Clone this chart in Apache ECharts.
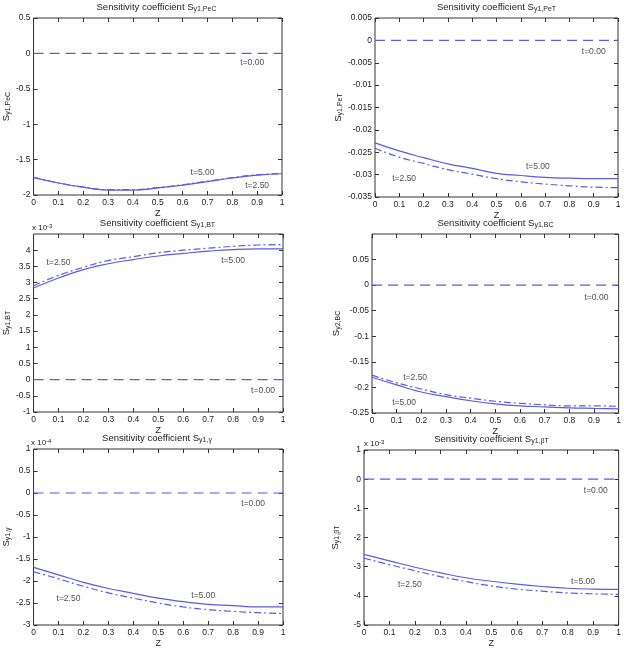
<!DOCTYPE html>
<html>
<head>
<meta charset="utf-8">
<script src="https://cdn.jsdelivr.net/npm/echarts@6/dist/echarts.min.js"></script>
<style>
html, body { margin: 0; padding: 0; background: #fff; }
#main { width: 624px; height: 649px; }
</style>
</head>
<body>
<div id="main"></div>
<script>
// z 坐标
var zValue = [0, 0.1, 0.2, 0.3, 0.4, 0.5, 0.6, 0.7, 0.8, 0.9, 1];
var zeroLine = [0, 0, 0, 0, 0, 0, 0, 0, 0, 0, 0];

// S y1,PeC
var PeC_t5 = [-1.75, -1.83, -1.89, -1.93, -1.93, -1.90, -1.86, -1.81, -1.76, -1.72, -1.70];
var PeC_t25 = [-1.75, -1.83, -1.89, -1.925, -1.925, -1.895, -1.855, -1.805, -1.755, -1.715, -1.695];
var PeC_text = [[0.88, -0.13], [0.68, -1.68], [0.90, -1.87]];

// S y1,PeT
var PeT_t5 = [-0.0229, -0.0247, -0.0262, -0.0276, -0.0286, -0.0297, -0.0302, -0.0306, -0.0308, -0.0309, -0.0309];
var PeT_t25 = [-0.0241, -0.0261, -0.0275, -0.0289, -0.0299, -0.0309, -0.0316, -0.0321, -0.0325, -0.0328, -0.0329];
var PeT_text = [[0.9, -0.0026], [0.67, -0.0283], [0.12, -0.031]];

// S y1,BT (x 10^-3)
var BT_t5 = [2.83, 3.14, 3.40, 3.58, 3.71, 3.82, 3.90, 3.97, 4.02, 4.04, 4.04];
var BT_t25 = [2.90, 3.22, 3.47, 3.68, 3.80, 3.92, 4.00, 4.06, 4.12, 4.16, 4.17];
var BT_text = [[0.92, -0.34], [0.80, 3.69], [0.10, 3.6]];

// S y1,BC
var BC_t5 = [-0.180, -0.195, -0.209, -0.218, -0.226, -0.232, -0.236, -0.238, -0.240, -0.241, -0.242];
var BC_t25 = [-0.176, -0.191, -0.203, -0.214, -0.221, -0.227, -0.231, -0.234, -0.236, -0.236, -0.237];
var BC_text = [[0.91, -0.024], [0.13, -0.230], [0.175, -0.18]];

// S y1,γ (x 10^-4)
var gam_t5 = [-1.69, -1.86, -2.03, -2.17, -2.28, -2.39, -2.47, -2.53, -2.56, -2.59, -2.59];
var gam_t25 = [-1.79, -1.95, -2.12, -2.27, -2.39, -2.50, -2.59, -2.65, -2.69, -2.72, -2.74];
var gam_text = [[0.88, -0.25], [0.68, -2.33], [0.14, -2.39]];

// S y1,βT (x 10^-3)
var bT_t5 = [-2.58, -2.80, -3.02, -3.21, -3.38, -3.50, -3.60, -3.68, -3.74, -3.77, -3.78];
var bT_t25 = [-2.71, -2.93, -3.14, -3.34, -3.51, -3.66, -3.77, -3.84, -3.90, -3.93, -3.95];
var bT_text = [[0.91, -0.38], [0.86, -3.50], [0.18, -3.61]];

// 文字标签
var tNames = ['t=0.00', 't=5.00', 't=2.50'];

var FONT = 'Liberation Sans';
var LINE = '#5b5be6';
var AXIS = '#333';
var TXT = '#222';

// 子图设置
var plots = [
    {sub: 'y1,PeC', yname: 'y1,PeC', t5: PeC_t5, t25: PeC_t25, text: PeC_text,
        min: -2, max: 0.5, interval: 0.5, showMax: true, exp: null,
        grid: {left: 31, top: 18, width: 251, height: 177}, nameGap: 21},
    {sub: 'y1,PeT', yname: 'y1,PeT', t5: PeT_t5, t25: PeT_t25, text: PeT_text,
        min: -0.035, max: 0.005, interval: 0.005, showMax: true, exp: null,
        grid: {left: 375, top: 18, width: 243, height: 179}, nameGap: 28},
    {sub: 'y1,BT', yname: 'y1,BT', t5: BT_t5, t25: BT_t25, text: BT_text,
        min: -1, max: 4.5, interval: 0.5, showMax: false, exp: '-3',
        grid: {left: 32, top: 234, width: 251, height: 178}, nameGap: 21},
    {sub: 'y1,BC', yname: 'y2,BC', t5: BC_t5, t25: BC_t25, text: BC_text,
        min: -0.25, max: 0.1, interval: 0.05, showMax: false, exp: null,
        grid: {left: 372, top: 234, width: 247, height: 179}, nameGap: 30},
    {sub: 'y1,γ', yname: 'y1,γ', t5: gam_t5, t25: gam_t25, text: gam_text,
        min: -3, max: 1, interval: 0.5, showMax: true, exp: '-4',
        grid: {left: 31, top: 449, width: 252, height: 178}, nameGap: 21},
    {sub: 'y1,βT', yname: 'y1,βT', t5: bT_t5, t25: bT_t25, text: bT_text,
        min: -5, max: 1, interval: 1, showMax: true, exp: '-3',
        grid: {left: 364, top: 450, width: 255, height: 178}, nameGap: 23}
];

function pairs(xs, ys) {
    var out = [];
    for (var i = 0; i < xs.length; i++) {
        out.push([xs[i], ys[i]]);
    }
    return out;
}

var subRich = {
    m: {fontSize: 9.5, fontFamily: FONT, fontWeight: 'normal', color: TXT},
    s: {fontSize: 7, fontFamily: FONT, fontWeight: 'normal', color: TXT, verticalAlign: 'bottom', padding: [5, 0, 0, 0]}
};

var option = {
    backgroundColor: '#fff',
    animation: false,
    title: [],
    grid: [],
    xAxis: [],
    yAxis: [],
    series: []
};

for (var i = 0; i < plots.length; i++) {
    var p = plots[i];
    var g = p.grid;
    option.grid.push({
        left: g.left, top: g.top, width: g.width, height: g.height,
        show: true, borderColor: AXIS, borderWidth: 1, containLabel: false
    });
    //标题
    option.title.push({
        text: '{m|Sensitivity coefficient S}{s|' + p.sub + '}',
        left: g.left + g.width / 2,
        top: g.top - 17,
        textAlign: 'center',
        padding: 0,
        textStyle: {fontWeight: 'normal', rich: subRich}
    });
    //指数
    if (p.exp) {
        option.title.push({
            text: '{m|x 10}{e|' + p.exp + '}',
            left: g.left,
            top: g.top - 11,
            padding: 0,
            textStyle: {fontWeight: 'normal', rich: {
                m: {fontSize: 8, fontFamily: FONT, fontWeight: 'normal', color: TXT},
                e: {fontSize: 6, fontFamily: FONT, fontWeight: 'normal', color: TXT, verticalAlign: 'top', padding: [0, 0, 4, 0]}
            }}
        });
    }
    var tick = {show: true, inside: true, length: 4, lineStyle: {color: AXIS}};
    var noLine = {show: false, onZero: false};
    //x轴 (下, 上)
    option.xAxis.push({
        type: 'value', gridIndex: i, min: 0, max: 1, interval: 0.1,
        position: 'bottom',
        name: 'Z', nameLocation: 'middle', nameGap: 14,
        nameTextStyle: {fontFamily: FONT, fontSize: 9, color: TXT},
        axisLine: noLine, axisTick: tick, splitLine: {show: false},
        axisLabel: {fontFamily: FONT, fontSize: 8.5, color: TXT, margin: 3}
    });
    option.xAxis.push({
        type: 'value', gridIndex: i, min: 0, max: 1, interval: 0.1,
        position: 'top',
        axisLine: noLine, axisTick: tick, splitLine: {show: false},
        axisLabel: {show: false}
    });
    //y轴 (左, 右)
    option.yAxis.push({
        type: 'value', gridIndex: i, min: p.min, max: p.max, interval: p.interval,
        position: 'left',
        name: '{m|S}{s|' + p.yname + '}', nameLocation: 'middle', nameGap: p.nameGap, nameRotate: 90,
        nameTextStyle: {rich: subRich},
        axisLine: noLine, axisTick: tick, splitLine: {show: false},
        axisLabel: {fontFamily: FONT, fontSize: 8.5, color: TXT, margin: 3, showMaxLabel: p.showMax}
    });
    option.yAxis.push({
        type: 'value', gridIndex: i, min: p.min, max: p.max, interval: p.interval,
        position: 'right',
        axisLine: noLine, axisTick: tick, splitLine: {show: false},
        axisLabel: {show: false}
    });
    //数据
    option.series.push({
        type: 'line', xAxisIndex: 2 * i, yAxisIndex: 2 * i, symbol: 'none',
        data: pairs(zValue, zeroLine),
        lineStyle: {color: LINE, width: 1.2, type: [10, 6]}
    });
    option.series.push({
        type: 'line', xAxisIndex: 2 * i, yAxisIndex: 2 * i, symbol: 'none', smooth: true,
        data: pairs(zValue, p.t5),
        lineStyle: {color: LINE, width: 1.2, type: 'solid'}
    });
    option.series.push({
        type: 'line', xAxisIndex: 2 * i, yAxisIndex: 2 * i, symbol: 'none', smooth: true,
        data: pairs(zValue, p.t25),
        lineStyle: {color: LINE, width: 1.2, type: [7, 3, 2, 3]}
    });
    //标签
    var lab = [];
    for (var k = 0; k < p.text.length; k++) {
        lab.push({name: tNames[k], value: p.text[k]});
    }
    option.series.push({
        type: 'scatter', xAxisIndex: 2 * i, yAxisIndex: 2 * i, symbolSize: 0,
        data: lab,
        label: {show: true, position: 'inside', formatter: '{b}',
            fontFamily: FONT, fontSize: 8.5, color: TXT}
    });
}

var Chart = echarts.init(document.getElementById('main'), null, {renderer: 'canvas'});
Chart.setOption(option);
</script>
</body>
</html>
